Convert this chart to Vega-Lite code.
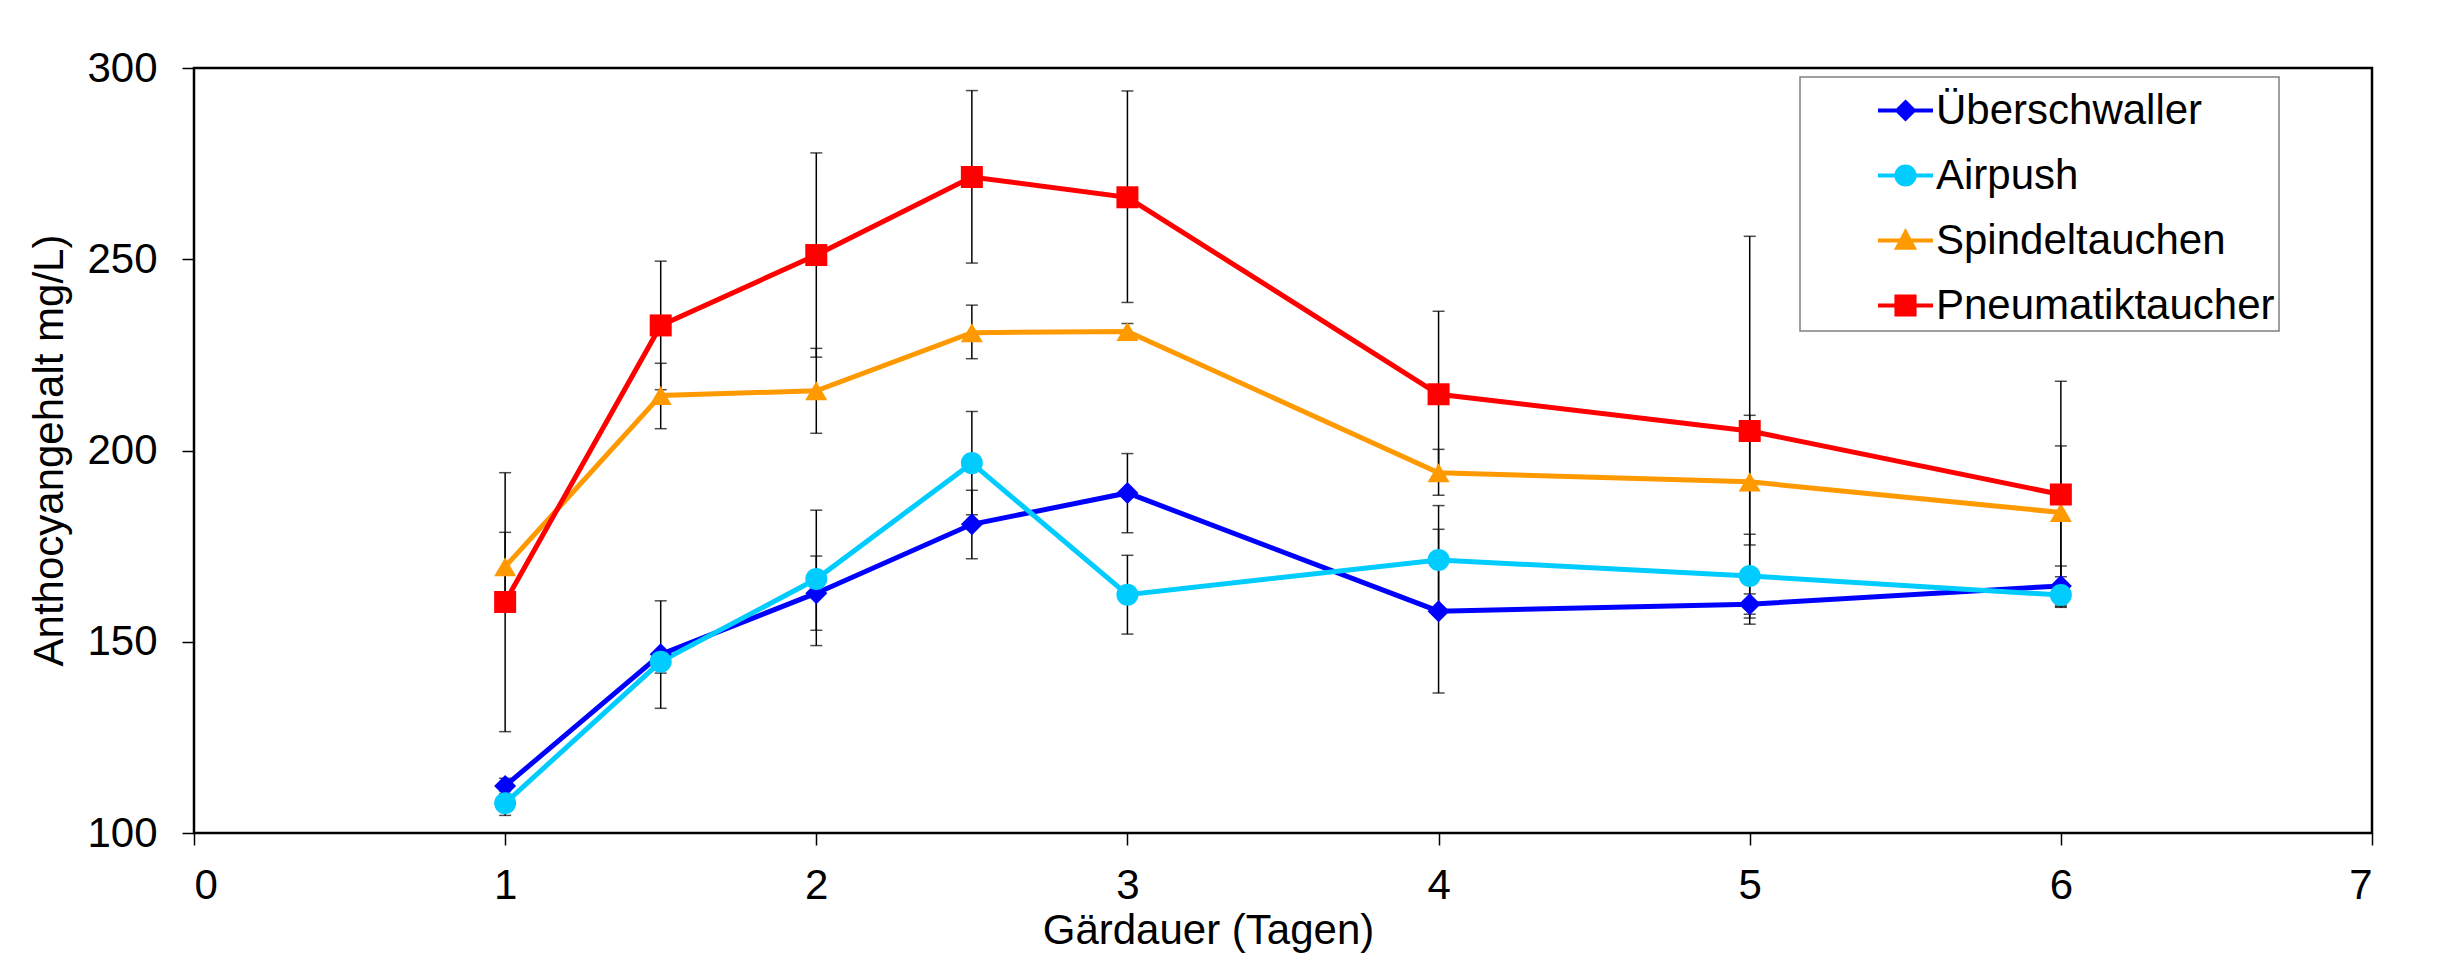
{
  "$schema": "https://vega.github.io/schema/vega-lite/v6.json",
  "width": 2178,
  "height": 765,
  "autosize": {"type": "none"},
  "padding": {"left": 194, "top": 68, "right": 74, "bottom": 132},
  "background": "#ffffff",
  "config": {
    "view": {"stroke": "#000000", "strokeWidth": 2.5},
    "font": "Liberation Sans",
    "axis": {
      "grid": false,
      "domain": false,
      "tickColor": "#000000",
      "tickWidth": 1.5,
      "tickSize": 12,
      "labelFont": "Liberation Sans",
      "labelFontSize": 42,
      "labelColor": "#000000",
      "titleFont": "Liberation Sans",
      "titleFontSize": 42,
      "titleFontWeight": "normal",
      "titleColor": "#000000"
    },
    "legend": {
      "padding": 4,
      "rowPadding": 14,
      "symbolSize": 3025,
      "symbolOffset": 72,
      "labelOffset": 1,
      "symbolStrokeWidth": 4,
      "labelFont": "Liberation Sans",
      "labelFontSize": 42,
      "labelColor": "#000000",
      "labelLimit": 0,
      "strokeColor": "#808080",
      "strokeWidth": 1.5,
      "fillColor": "#ffffff"
    }
  },
  "data": {
    "values": [
      {"Verfahren": "Überschwaller", "Tage": 1, "Anthocyan": 112.3, "unten": 110.3, "oben": 114.3},
      {"Verfahren": "Überschwaller", "Tage": 1.5, "Anthocyan": 146.7, "unten": 132.6, "oben": 160.7},
      {"Verfahren": "Überschwaller", "Tage": 2, "Anthocyan": 162.7, "unten": 153.0, "oben": 172.4},
      {"Verfahren": "Überschwaller", "Tage": 2.5, "Anthocyan": 180.7, "unten": 171.7, "oben": 189.6},
      {"Verfahren": "Überschwaller", "Tage": 3, "Anthocyan": 188.9, "unten": 178.5, "oben": 199.2},
      {"Verfahren": "Überschwaller", "Tage": 4, "Anthocyan": 158.0, "unten": 136.6, "oben": 179.4},
      {"Verfahren": "Überschwaller", "Tage": 5, "Anthocyan": 159.8, "unten": 157.2, "oben": 162.5},
      {"Verfahren": "Überschwaller", "Tage": 6, "Anthocyan": 164.6, "unten": 159.6, "oben": 169.8},
      {"Verfahren": "Airpush", "Tage": 1, "Anthocyan": 107.8, "unten": 104.6, "oben": 111.0},
      {"Verfahren": "Airpush", "Tage": 1.5, "Anthocyan": 144.8, "unten": 141.8, "oben": 147.8},
      {"Verfahren": "Airpush", "Tage": 2, "Anthocyan": 166.4, "unten": 149.0, "oben": 184.4},
      {"Verfahren": "Airpush", "Tage": 2.5, "Anthocyan": 196.7, "unten": 183.2, "oben": 210.2},
      {"Verfahren": "Airpush", "Tage": 3, "Anthocyan": 162.3, "unten": 152.0, "oben": 172.6},
      {"Verfahren": "Airpush", "Tage": 4, "Anthocyan": 171.4, "unten": 157.2, "oben": 185.6},
      {"Verfahren": "Airpush", "Tage": 5, "Anthocyan": 167.2, "unten": 156.2, "oben": 178.1},
      {"Verfahren": "Airpush", "Tage": 6, "Anthocyan": 162.2, "unten": 159.2, "oben": 165.2},
      {"Verfahren": "Spindeltauchen", "Tage": 1, "Anthocyan": 169.6, "unten": 160.6, "oben": 178.6},
      {"Verfahren": "Spindeltauchen", "Tage": 1.5, "Anthocyan": 214.4, "unten": 205.7, "oben": 222.8},
      {"Verfahren": "Spindeltauchen", "Tage": 2, "Anthocyan": 215.6, "unten": 204.5, "oben": 226.7},
      {"Verfahren": "Spindeltauchen", "Tage": 2.5, "Anthocyan": 230.8, "unten": 224.0, "oben": 238.0},
      {"Verfahren": "Spindeltauchen", "Tage": 3, "Anthocyan": 231.1, "unten": 229.0, "oben": 233.2},
      {"Verfahren": "Spindeltauchen", "Tage": 4, "Anthocyan": 194.2, "unten": 188.3, "oben": 200.3},
      {"Verfahren": "Spindeltauchen", "Tage": 5, "Anthocyan": 191.8, "unten": 175.3, "oben": 209.2},
      {"Verfahren": "Spindeltauchen", "Tage": 6, "Anthocyan": 183.8, "unten": 167.0, "oben": 201.2},
      {"Verfahren": "Pneumatiktaucher", "Tage": 1, "Anthocyan": 160.4, "unten": 126.5, "oben": 194.2},
      {"Verfahren": "Pneumatiktaucher", "Tage": 1.5, "Anthocyan": 232.7, "unten": 215.9, "oben": 249.5},
      {"Verfahren": "Pneumatiktaucher", "Tage": 2, "Anthocyan": 251.1, "unten": 224.4, "oben": 277.8},
      {"Verfahren": "Pneumatiktaucher", "Tage": 2.5, "Anthocyan": 271.5, "unten": 249.0, "oben": 294.1},
      {"Verfahren": "Pneumatiktaucher", "Tage": 3, "Anthocyan": 266.2, "unten": 238.7, "oben": 294.0},
      {"Verfahren": "Pneumatiktaucher", "Tage": 4, "Anthocyan": 214.7, "unten": 193.0, "oben": 236.4},
      {"Verfahren": "Pneumatiktaucher", "Tage": 5, "Anthocyan": 205.1, "unten": 154.6, "oben": 256.0},
      {"Verfahren": "Pneumatiktaucher", "Tage": 6, "Anthocyan": 188.5, "unten": 159.0, "oben": 218.1}
    ]
  },
  "encoding": {
    "x": {
      "field": "Tage",
      "type": "quantitative",
      "scale": {"domain": [0, 7], "nice": false, "zero": false},
      "axis": {
        "title": "Gärdauer (Tagen)",
        "values": [0, 1, 2, 3, 4, 5, 6, 7],
        "format": "d",
        "labelPadding": 20,
        "labelBaseline": "top",
        "titleX": 1014,
        "titleY": 110,
        "titleAlign": "center",
        "titleBaseline": "alphabetic"
      }
    },
    "color": {
      "field": "Verfahren",
      "type": "nominal",
      "scale": {
        "domain": ["Überschwaller", "Airpush", "Spindeltauchen", "Pneumatiktaucher"],
        "range": ["#0000ff", "#00ccff", "#ff9900", "#ff0000"]
      },
      "legend": {
        "title": null,
        "orient": "none",
        "legendX": 1606,
        "legendY": 9,
        "encode": {
          "labels": {
            "update": {
              "text": {"signal": "datum.value == 'Pneumatiktaucher' ? datum.label + '\u00a0\u00a0\u00a0\u00a0\u00a0\u00a0' : datum.label"}
            }
          },
          "symbols": {
            "update": {
              "shape": {"signal": "datum.value == 'Überschwaller' ? 'M-1,0H1M0,-0.3L0.3,0L0,0.3L-0.3,0Z' : datum.value == 'Airpush' ? 'M-1,0H1M-0.33,0A0.33,0.33,0,1,0,0.33,0A0.33,0.33,0,1,0,-0.33,0Z' : datum.value == 'Spindeltauchen' ? 'M-1,0H1M0,-0.3L0.3,0.26L-0.3,0.26Z' : 'M-1,0H1M-0.33,-0.33H0.33V0.33H-0.33Z'"},
              "fill": {"signal": "scale('color', datum.value)"},
              "stroke": {"signal": "scale('color', datum.value)"},
              "strokeWidth": {"value": 4},
              "opacity": {"value": 1}
            }
          }
        }
      }
    },
    "y": {
      "field": "Anthocyan",
      "type": "quantitative",
      "scale": {"domain": [100, 300], "nice": false, "zero": false},
      "axis": {
        "title": "Anthocyangehalt mg/L)",
        "values": [100, 150, 200, 250, 300],
        "labelPadding": 25,
        "titleX": -132,
        "titleY": 382,
        "titleAngle": -90,
        "titleAlign": "center",
        "titleBaseline": "alphabetic"
      }
    }
  },
  "layer": [
    {
      "mark": {
        "type": "errorbar",
        "ticks": {"size": 12, "thickness": 1.5, "color": "#000000"},
        "rule": {"strokeWidth": 1.5, "color": "#000000"}
      },
      "encoding": {
        "y": {
          "field": "unten",
          "type": "quantitative",
          "title": "Anthocyangehalt mg/L)"
        },
        "y2": {"field": "oben"},
        "color": {"value": "#000000"}
      }
    },
    {
      "mark": {"type": "line", "strokeWidth": 5}
    },
    {
      "transform": [{"filter": "datum.Verfahren == 'Überschwaller'"}],
      "mark": {"type": "point", "shape": "diamond", "filled": true, "size": 484, "opacity": 1, "strokeWidth": 0}
    },
    {
      "transform": [{"filter": "datum.Verfahren == 'Airpush'"}],
      "mark": {"type": "point", "shape": "circle", "filled": true, "size": 484, "opacity": 1, "strokeWidth": 0}
    },
    {
      "transform": [{"filter": "datum.Verfahren == 'Spindeltauchen'"}],
      "mark": {"type": "point", "shape": "triangle-up", "filled": true, "size": 484, "opacity": 1, "strokeWidth": 0}
    },
    {
      "transform": [{"filter": "datum.Verfahren == 'Pneumatiktaucher'"}],
      "mark": {"type": "point", "shape": "square", "filled": true, "size": 484, "opacity": 1, "strokeWidth": 0}
    }
  ]
}
